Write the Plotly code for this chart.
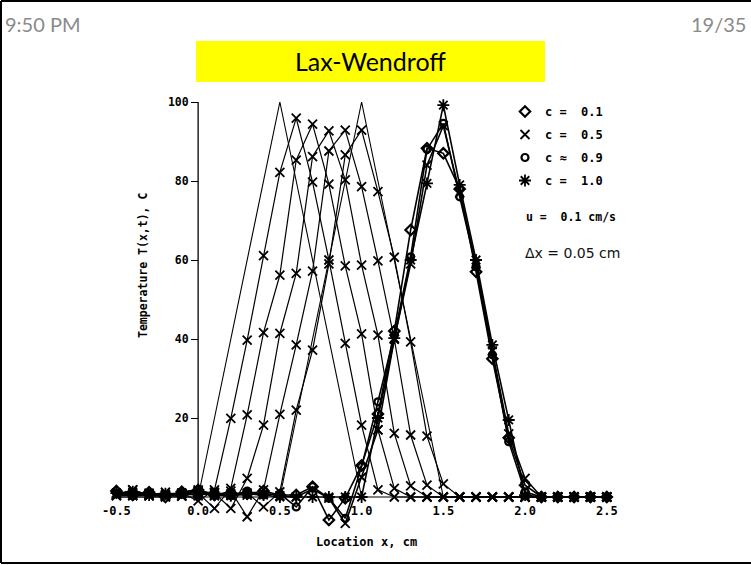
import plotly.graph_objects as go

# Grid of node locations (cm)
x_cm = [-0.5, -0.4, -0.3, -0.2, -0.1, 0.0, 0.1, 0.2, 0.3, 0.4, 0.5,
        0.6, 0.7, 0.8, 0.9, 1.0, 1.1, 1.2, 1.3, 1.4, 1.5,
        1.6, 1.7, 1.8, 1.9, 2.0, 2.1, 2.2, 2.3, 2.4, 2.5]

# Exact triangular pulse at t = 0 and after moving 0.5 cm
exact_start = [0, 0, 0, 0, 0, 0, 20, 40, 60, 80, 100,
               80, 60, 40, 20, 0, 0, 0, 0, 0, 0,
               0, 0, 0, 0, 0, 0, 0, 0, 0, 0]
exact_mid = [0, 0, 0, 0, 0, 0, 0, 0, 0, 0, 0,
             20, 40, 60, 80, 100, 80, 60, 40, 20, 0,
             0, 0, 0, 0, 0, 0, 0, 0, 0, 0]

# c = 0.5 snapshots while the pulse travels (peaks at 0.6 ... 1.0 cm)
c05_snap1 = [0.5, 1.8, 0.5, 0.0, 1.0, -1.0, 1.8, 19.9, 39.7, 61.1, 82.2,
             95.9, 79.7, 60.0, 38.9, 18.2, 1.8, 0, 0, 0, 0,
             0, 0, 0, 0, 0, 0, 0, 0, 0, 0]
c05_snap2 = [0.5, 1.0, 0.3, 0.5, 0.2, 1.0, -2.9, 2.2, 20.8, 41.6, 56.2,
             85.3, 94.4, 79.2, 58.5, 41.3, 17.0, 2.2, 0, 0, 0,
             0, 0, 0, 0, 0, 0, 0, 0, 0, 0]
c05_snap3 = [0.3, 0.5, 1.0, 0.2, 0.8, 1.5, 1.0, -2.9, 4.7, 18.2, 41.4,
             56.6, 86.2, 92.7, 80.3, 58.7, 41.0, 16.1, 2.8, 0, 0,
             0, 0, 0, 0, 0, 0, 0, 0, 0, 0]
c05_snap4 = [0.8, 0.3, 0.5, 1.2, 0.4, 1.0, 0.5, 1.5, -5.0, 1.8, 20.9,
             38.5, 57.2, 87.6, 92.9, 78.6, 59.8, 40.0, 15.7, 3.0, 0,
             0, 0, 0, 0, 0, 0, 0, 0, 0, 0]
c05_snap5 = [1.0, 0.5, 0.8, 0.2, 1.0, 0.3, 1.2, 0.5, 1.0, -2.5, 1.3,
             22.0, 37.2, 59.0, 86.6, 92.9, 77.3, 60.7, 39.3, 15.4, 3.3,
             0, 0, 0, 0, 0, 0, 0, 0, 0, 0]

# Final profiles (peak near 1.5 cm) for each Courant number
final_c01 = [1.5, 0.5, 1.2, 0.0, 1.3, 1.8, 0.5, 1.0, 0.8, 1.5, 0.5,
             0.5, 2.6, -5.8, -0.3, 8.0, 21.0, 42.0, 67.6, 88.3, 87.0,
             78.0, 57.0, 35.0, 15.0, 3.0, 0, 0, 0, 0, 0]
final_c05 = [0.5, 1.8, 0.3, 0.5, 0.2, 1.8, 0.3, 0.8, 0.5, 1.0, 0.3,
             0.0, 2.0, -0.3, -6.7, 5.0, 17.0, 40.0, 59.0, 84.0, 94.0,
             77.0, 59.0, 37.0, 16.0, 4.7, 0, 0, 0, 0, 0]
final_c09 = [1.0, 0.3, 1.0, 0.5, 1.0, 0.5, 1.2, 0.3, 1.5, 0.5, 0.8,
             -2.5, 2.6, -0.3, -5.4, 7.7, 24.1, 41.0, 60.8, 88.0, 94.6,
             76.0, 58.3, 36.0, 14.0, 1.3, 0, 0, 0, 0, 0]
final_c10 = [1.0, 1.3, 0.5, 0.8, 1.0, 1.5, 0.5, 0.3, 0.8, 0.5, 0.0,
             0.0, 0.0, 0.0, 0.0, 0.0, 20.0, 40.2, 60.0, 79.4, 99.2,
             79.0, 60.0, 38.5, 19.5, 0.5, 0, 0, 0, 0, 0]

x_ticks = [-0.5, 0.0, 0.5, 1.0, 1.5, 2.0, 2.5]
x_tick_text = ["-0.5", "0.0", "0.5", "1.0", "1.5", "2.0", "2.5"]
y_ticks = [20, 40, 60, 80, 100]

legend_names = ["c =  0.1", "c =  0.5", "c \u2248  0.9", "c =  1.0"]

# Figure geometry (pixels)
W, H = 751, 565
ML, MR, MT, MB = 100, 111, 90, 35
PW, PH = W - ML - MR, H - MT - MB


def px_x(px):
    return (px - ML) / PW


def px_y(py):
    return (H - MB - py) / PH


PLOT_FONT = "DejaVu Sans Mono"
BLACK = "#000000"

fig = go.Figure()

# Exact solutions: plain thin lines
for ys in (exact_start, exact_mid):
    fig.add_trace(go.Scatter(x=x_cm, y=ys, mode="lines",
                             line=dict(color=BLACK, width=1.1),
                             showlegend=False, hoverinfo="skip"))

x_marker = dict(symbol="x-thin-open", size=9, color=BLACK,
                line=dict(color=BLACK, width=1.8))
for ys in (c05_snap1, c05_snap2, c05_snap3, c05_snap4, c05_snap5):
    fig.add_trace(go.Scatter(x=x_cm, y=ys, mode="lines+markers",
                             line=dict(color=BLACK, width=1.2),
                             marker=x_marker, showlegend=False))

final_styles = [
    (final_c01, dict(symbol="diamond-open", size=8, color=BLACK,
                     line=dict(color=BLACK, width=2.2))),
    (final_c05, x_marker),
    (final_c09, dict(symbol="circle-open", size=7, color=BLACK,
                     line=dict(color=BLACK, width=2.2))),
    (final_c10, dict(symbol="asterisk-open", size=10, color=BLACK,
                     line=dict(color=BLACK, width=1.8))),
]
for ys, mk in final_styles:
    fig.add_trace(go.Scatter(x=x_cm, y=ys, mode="lines+markers",
                             line=dict(color=BLACK, width=1.6),
                             marker=mk, showlegend=False))

# Legend entries (symbols only)
for name, (_, mk) in zip(legend_names, final_styles):
    fig.add_trace(go.Scatter(x=[None], y=[None], mode="markers", name=name,
                             marker=mk, legendgroup=name, showlegend=True))

# Vertical axis line from 0 to 100
fig.add_shape(type="line", xref="x", yref="y", x0=0, x1=0, y0=0, y1=100,
              line=dict(color=BLACK, width=1.3))

# Slide frame
for x0, y0, x1, y1 in [(1, 1, 751, 1), (1, 1, 1, 563), (1, 563, 751, 563)]:
    fig.add_shape(type="line", xref="paper", yref="paper",
                  x0=px_x(x0), x1=px_x(x1), y0=px_y(y0), y1=px_y(y1),
                  line=dict(color=BLACK, width=2))

# Title banner
fig.add_shape(type="rect", xref="paper", yref="paper",
              x0=px_x(196), x1=px_x(545), y0=px_y(82), y1=px_y(41),
              fillcolor="#FFFF00", line=dict(width=0), layer="below")

annotations = [
    dict(text="Lax-Wendroff", x=px_x(370), y=px_y(61),
         font=dict(family="Lato", size=25, color=BLACK)),
    dict(text="9:50 PM", x=px_x(3), y=px_y(24), xanchor="left",
         font=dict(family="Lato", size=20, color="#8a8a8a")),
    dict(text="19/35", x=px_x(748), y=px_y(24), xanchor="right",
         font=dict(family="Lato", size=20, color="#8a8a8a")),
    dict(text="Location x, cm", x=px_x(366), y=px_y(542),
         font=dict(family=PLOT_FONT, size=12, color=BLACK, weight="bold")),
    dict(text="Temperature T(x,t), C", x=px_x(143), y=px_y(266),
         textangle=-90,
         font=dict(family=PLOT_FONT, size=11.5, color=BLACK, weight="bold")),
    dict(text="u =  0.1 cm/s", x=px_x(524), y=px_y(217), xanchor="left",
         font=dict(family=PLOT_FONT, size=11.5, color=BLACK, weight="bold")),
    dict(text="\u0394x = 0.05 cm", x=px_x(523), y=px_y(253), xanchor="left",
         font=dict(family="DejaVu Sans", size=14, color="#111111")),
]
for a in annotations:
    a.update(xref="paper", yref="paper", showarrow=False)
    a.setdefault("xanchor", "center")
    a.setdefault("yanchor", "middle")
fig.update_layout(annotations=annotations)

fig.update_layout(
    width=W, height=H,
    margin=dict(l=ML, r=MR, t=MT, b=MB, pad=0),
    paper_bgcolor="white", plot_bgcolor="white",
    xaxis=dict(range=[-0.6003, 2.7031], anchor="free", position=px_y(497),
               tickvals=x_ticks, ticktext=x_tick_text,
               ticks="outside", ticklen=3, tickcolor="rgba(0,0,0,0)",
               showline=False, showgrid=False, zeroline=False,
               tickfont=dict(family=PLOT_FONT, size=12, color=BLACK,
                             weight="bold")),
    yaxis=dict(range=[-8.354, 103.04], anchor="free", position=px_x(198),
               tickvals=y_ticks, ticks="outside", ticklen=7, tickwidth=1.3,
               tickcolor=BLACK, showline=False, showgrid=False,
               zeroline=False,
               tickfont=dict(family=PLOT_FONT, size=11.5, color=BLACK,
                             weight="bold")),
    legend=dict(x=px_x(505), y=px_y(97), xanchor="left", yanchor="top",
                bgcolor="rgba(0,0,0,0)", traceorder="grouped",
                tracegroupgap=4,
                font=dict(family=PLOT_FONT, size=12, color=BLACK,
                          weight="bold")),
    showlegend=True,
)

fig.write_html("out.html")
